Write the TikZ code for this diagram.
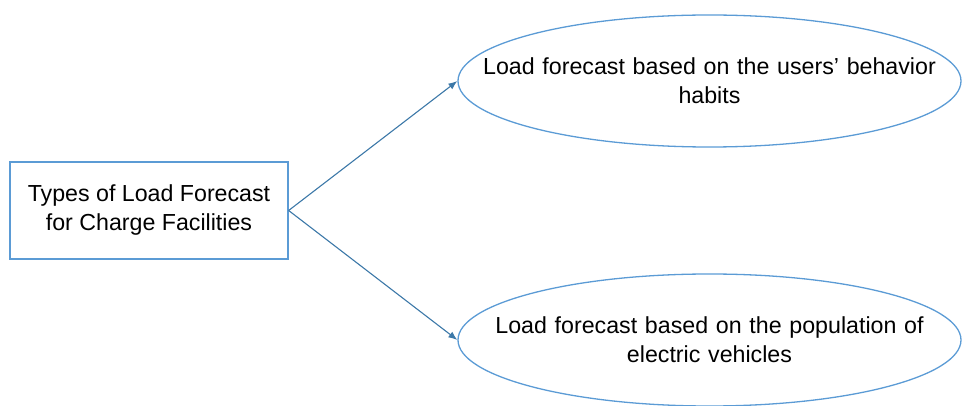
\documentclass[tikz,border=0pt]{standalone}
\usepackage{fontspec}
\setmainfont{Liberation Sans}
\usetikzlibrary{shapes.geometric,arrows.meta}
\definecolor{boxblue}{HTML}{5B9BD5}
\definecolor{arrowblue}{HTML}{3C78A8}
\begin{document}
\begin{tikzpicture}[x=1pt,y=1pt,
		level distance=560.5pt,sibling distance=259pt,
		every node/.style={font=\fontsize{23.2}{29}\selectfont,align=center,draw=boxblue,line width=1.3pt},
		edge from parent/.style={draw=arrowblue,line width=1.1pt,-{Latex[length=9pt,width=7pt]}},
		forecast/.style={ellipse,text width=480pt,inner xsep=-80pt,inner ysep=0pt,minimum width=503pt,minimum height=132pt}]
			\useasboundingbox (0,0) rectangle (962,-406);
			\node[rectangle,minimum width=278pt,minimum height=97pt] (types) at (149,-210.5) {Types of Load Forecast\\for Charge Facilities} [grow'=right,parent anchor=east,child anchor=west]
			child {node[forecast] (habits) {Load forecast based on the users' behavior\\habits}}
			child {node[forecast] (population) {Load forecast based on the population of\\electric vehicles}};
			\end{tikzpicture}
\end{document}
